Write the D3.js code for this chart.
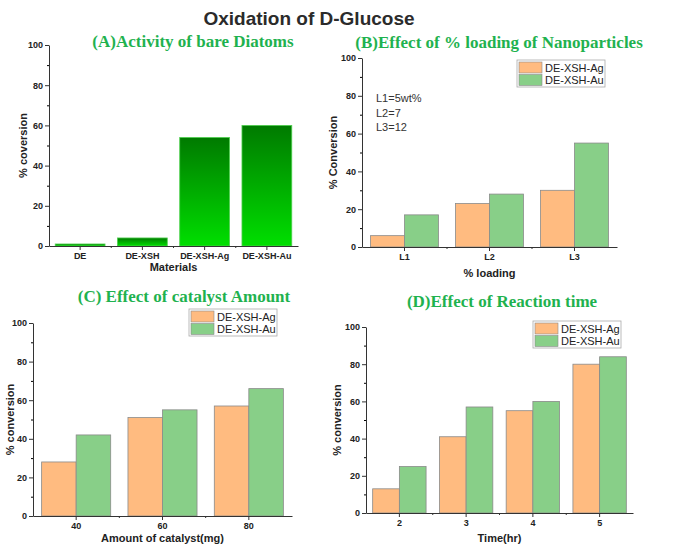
<!DOCTYPE html>
<html>
<head>
<meta charset="utf-8">
<script src="https://cdn.jsdelivr.net/npm/d3@7"></script>
<style>
  body { margin: 0; background: #fff; }
  svg { display: block; }
</style>
</head>
<body>
<svg id="chart" width="685" height="549"></svg>
<script>
// panel A
const materials = ["DE", "DE-XSH", "DE-XSH-Ag", "DE-XSH-Au"];
const materialValues = [1, 4, 54, 60];

// panel B
const loadings = ["L1", "L2", "L3"];
const loadingAg = [6, 23, 30];
const loadingAu = [17, 28, 55];
const loadingNotes = ["L1=5wt%", "L2=7", "L3=12"];

// panel C
const amounts = ["40", "60", "80"];
const amountAg = [28, 51, 57];
const amountAu = [42, 55, 66];

// panel D
const times = ["2", "3", "4", "5"];
const timeAg = [13, 41, 55, 80];
const timeAu = [25, 57, 60, 84];

const seriesNames = ["DE-XSH-Ag", "DE-XSH-Au"];
const yTicks = [0, 20, 40, 60, 80, 100];

const colAg = "#ffbb80", colAu = "#88cf88";
const titleGreen = "#1fb24f";

const svg = d3.select("#chart");

svg.append("text")
    .attr("x", 309).attr("y", 25)
    .attr("text-anchor", "middle")
    .attr("font-family", "'Liberation Sans', Arial, sans-serif")
    .attr("font-weight", "bold")
    .attr("font-size", 19)
    .attr("fill", "#2b2b2b")
    .text("Oxidation of D-Glucose");

// gradient for panel A bars
const grad = svg.append("defs").append("linearGradient")
    .attr("id", "greenGrad")
    .attr("x1", 0).attr("y1", 0).attr("x2", 0).attr("y2", 1);
grad.append("stop").attr("offset", "0%").attr("stop-color", "#007a00");
grad.append("stop").attr("offset", "100%").attr("stop-color", "#00df00");

function drawPanel(p) {
    const x = d3.scaleBand().domain(p.cats).range(p.xr).paddingInner(0.2).paddingOuter(0.1);
    const y = d3.scaleLinear().domain([0, 100]).range(p.yr);
    const g = svg.append("g");

    // title
    g.append("text")
        .attr("x", p.title[1]).attr("y", p.title[2])
        .attr("text-anchor", "middle")
        .attr("font-family", "'Liberation Serif', 'Times New Roman', serif")
        .attr("font-weight", "bold")
        .attr("font-size", 17)
        .attr("fill", titleGreen)
        .text(p.title[0]);

    // bars
    if (p.single) {
        g.selectAll("rect.bar")
            .data(p.values)
            .join("rect")
            .attr("class", "bar")
            .attr("x", (d, i) => x(p.cats[i]))
            .attr("width", x.bandwidth())
            .attr("y", d => y(d))
            .attr("height", d => y(0) - y(d))
            .attr("fill", "url(#greenGrad)")
            .attr("stroke", "#4fd04f")
            .attr("stroke-width", 0.8);
    } else {
        const xs = d3.scaleBand().domain([0, 1]).range([0, x.bandwidth()]);
        [p.ag, p.au].forEach((vals, s) => {
            g.selectAll("rect.s" + s)
                .data(vals)
                .join("rect")
                .attr("class", "s" + s)
                .attr("x", (d, i) => x(p.cats[i]) + xs(s))
                .attr("width", xs.bandwidth())
                .attr("y", d => y(d))
                .attr("height", d => y(0) - y(d))
                .attr("fill", s === 0 ? colAg : colAu)
                .attr("stroke", "#8a8a8a")
                .attr("stroke-width", 0.8);
        });
    }

    // y axis
    const yAxis = g.append("g")
        .attr("transform", `translate(${p.xr[0]},0)`)
        .call(d3.axisLeft(y).tickValues(yTicks).tickSize(4).tickPadding(2).tickSizeOuter(0));
    g.append("g")
        .attr("transform", `translate(${p.xr[0]},0)`)
        .call(d3.axisLeft(y).tickValues(d3.range(10, 100, 20)).tickSize(2).tickFormat("").tickSizeOuter(0))
        .call(a => a.select(".domain").remove());

    // x axis
    const xAxis = g.append("g")
        .attr("transform", `translate(0,${p.yr[0]})`)
        .call(d3.axisBottom(x).tickSize(4).tickPadding(3).tickSizeOuter(0));
    const bounds = p.cats.slice(1).map((c, i) => (x(p.cats[i]) + x.bandwidth() + x(c)) / 2);
    g.append("g")
        .selectAll("line")
        .data(bounds)
        .join("line")
        .attr("x1", d => d).attr("x2", d => d)
        .attr("y1", p.yr[0]).attr("y2", p.yr[0] + 2)
        .attr("stroke", "#333");

    [yAxis, xAxis].forEach(a => {
        a.selectAll("text")
            .attr("font-family", "'Liberation Sans', Arial, sans-serif")
            .attr("font-weight", "bold")
            .attr("font-size", 9)
            .attr("fill", "#222");
        a.selectAll("line, path").attr("stroke", "#333");
    });

    // axis labels
    g.append("text")
        .attr("x", d3.mean(p.xr)).attr("y", p.xLabelY)
        .attr("text-anchor", "middle")
        .attr("font-family", "'Liberation Sans', Arial, sans-serif")
        .attr("font-weight", "bold")
        .attr("font-size", 11)
        .attr("fill", "#222")
        .text(p.xLabel);
    g.append("text")
        .attr("transform", `translate(${p.yLabelX},${d3.mean(p.yr)}) rotate(-90)`)
        .attr("text-anchor", "middle")
        .attr("font-family", "'Liberation Sans', Arial, sans-serif")
        .attr("font-weight", "bold")
        .attr("font-size", 11)
        .attr("fill", "#222")
        .text(p.yLabel);

    // legend
    if (p.legend) {
        const [lx, ly] = p.legend;
        const lg = g.append("g").attr("transform", `translate(${lx},${ly})`);
        lg.append("rect")
            .attr("width", 88).attr("height", 27)
            .attr("fill", "#fff")
            .attr("stroke", "#aaa")
            .attr("stroke-width", 0.8);
        lg.selectAll("rect.sw")
            .data(seriesNames)
            .join("rect")
            .attr("class", "sw")
            .attr("x", 2).attr("y", (d, i) => 2 + i * 12.5)
            .attr("width", 23).attr("height", 11)
            .attr("fill", (d, i) => i === 0 ? colAg : colAu)
            .attr("stroke", "#8a8a8a")
            .attr("stroke-width", 0.6);
        lg.selectAll("text")
            .data(seriesNames)
            .join("text")
            .attr("x", 28).attr("y", (d, i) => 11.5 + i * 12.5)
            .attr("font-family", "'Liberation Sans', Arial, sans-serif")
            .attr("font-size", 11)
            .attr("fill", "#222")
            .text(d => d);
    }
    return { x, y, g };
}

drawPanel({
    cats: materials, values: materialValues, single: true,
    xr: [49, 298], yr: [246, 45],
    title: ["(A)Activity of bare Diatoms", 193, 47],
    xLabel: "Materials", xLabelY: 271,
    yLabel: "% coversion", yLabelX: 27
});

const pB = drawPanel({
    cats: loadings, ag: loadingAg, au: loadingAu,
    xr: [362, 617], yr: [247, 58],
    title: ["(B)Effect of % loading of Nanoparticles", 499, 48],
    xLabel: "% loading", xLabelY: 277,
    yLabel: "% Conversion", yLabelX: 337,
    legend: [517, 60]
});
pB.g.selectAll("text.note")
    .data(loadingNotes)
    .join("text")
    .attr("class", "note")
    .attr("x", 376)
    .attr("y", (d, i) => 102 + i * 14.5)
    .attr("font-family", "'Liberation Sans', Arial, sans-serif")
    .attr("font-size", 11)
    .attr("fill", "#333")
    .text(d => d);

drawPanel({
    cats: amounts, ag: amountAg, au: amountAu,
    xr: [33, 292], yr: [516, 323],
    title: ["(C) Effect of catalyst Amount", 184, 302],
    xLabel: "Amount of catalyst(mg)", xLabelY: 542,
    yLabel: "% conversion", yLabelX: 14,
    legend: [189, 309]
});

drawPanel({
    cats: times, ag: timeAg, au: timeAu,
    xr: [366, 633], yr: [513, 327],
    title: ["(D)Effect of Reaction time", 502, 307],
    xLabel: "Time(hr)", xLabelY: 542,
    yLabel: "% conversion", yLabelX: 341,
    legend: [533, 321]
});
</script>
</body>
</html>
